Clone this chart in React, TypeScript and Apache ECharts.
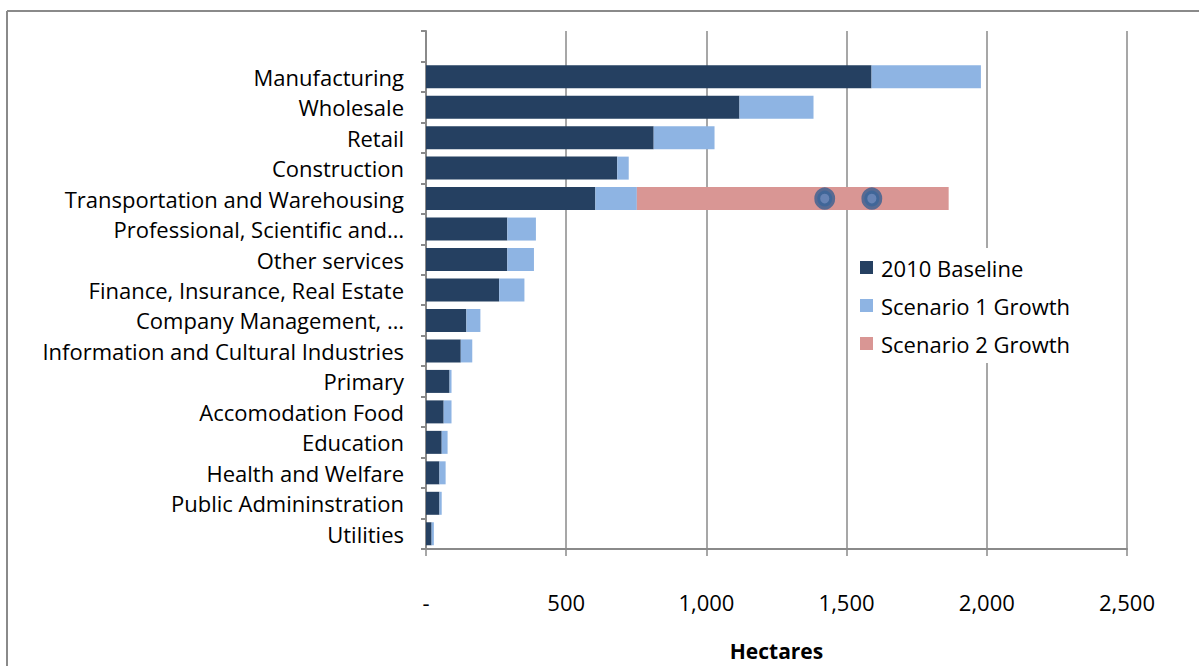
import React, { useEffect, useRef } from "react";
import * as echarts from "echarts";

const categories = [
  "",
  "Manufacturing",
  "Wholesale",
  "Retail",
  "Construction",
  "Transportation and Warehousing",
  "Professional, Scientific and…",
  "Other services",
  "Finance, Insurance, Real Estate",
  "Company Management, …",
  "Information and Cultural Industries",
  "Primary",
  "Accomodation Food",
  "Education",
  "Health and Welfare",
  "Public Admininstration",
  "Utilities",
];
const baseline = [null, 1589, 1118, 812, 682, 604, 290, 290, 261, 144, 124, 84, 63, 56, 48, 48, 20];
const scenario1 = [null, 390, 264, 217, 41, 148, 102, 95, 90, 50, 41, 7, 28, 21, 22, 8, 8];
const scenario2 = [null, null, null, null, null, 1112, null, null, null, null, null, null, null, null, null, null, null];
const markers = [
  [1422, 5],
  [1590, 5],
];
const xTickLabels: Record<number, string> = { 0: "-", 500: "500", 1000: "1,000", 1500: "1,500", 2000: "2,000", 2500: "2,500" };

const FONT = "Open Sans";
const GRAY = "#8a8a8a";
const FS = 22;

export default function App() {
  const ref = useRef<HTMLDivElement>(null);
  useEffect(() => {
    document.body.style.margin = "0";
    const chart = echarts.init(ref.current!, null, { renderer: "svg" });
    chart.setOption({
      animation: false,
      backgroundColor: "#fff",
      textStyle: { fontFamily: FONT },
      graphic: [
        { type: "line", shape: { x1: 7, y1: 11, x2: 1199, y2: 11 }, style: { stroke: GRAY, lineWidth: 2 } },
        { type: "line", shape: { x1: 7, y1: 11, x2: 7, y2: 666 }, style: { stroke: GRAY, lineWidth: 2 } },
      ],
      grid: { left: 426, right: 72, top: 31, bottom: 104 },
      legend: {
        data: ["2010 Baseline", "Scenario 1 Growth", "Scenario 2 Growth"],
        orient: "vertical",
        left: 850,
        top: 248,
        padding: [8, 10, 8, 10],
        backgroundColor: "#fff",
        itemWidth: 13,
        itemHeight: 13,
        itemGap: 15,
        icon: "rect",
        textStyle: { fontSize: FS, color: "#000", fontFamily: FONT, lineHeight: 23, padding: [0, 0, 0, 3] },
      },
      xAxis: {
        type: "value",
        min: 0,
        max: 2500,
        interval: 500,
        name: "Hectares",
        nameLocation: "middle",
        nameGap: 91,
        nameTextStyle: { fontSize: 21, fontWeight: "bold", color: "#000", fontFamily: FONT },
        axisLine: { show: true, lineStyle: { color: GRAY, width: 2 } },
        axisTick: { show: true, length: 7, lineStyle: { color: GRAY, width: 1.5 } },
        axisLabel: {
          fontSize: FS,
          color: "#000",
          margin: 42,
          fontFamily: FONT,
          formatter: (v: number) => xTickLabels[v] ?? String(v),
        },
        splitLine: { show: true, lineStyle: { color: GRAY, width: 1.5 } },
      },
      yAxis: {
        type: "category",
        data: categories,
        inverse: true,
        axisLine: { show: true, lineStyle: { color: GRAY, width: 2 } },
        axisTick: { show: true, length: 5, lineStyle: { color: GRAY, width: 2 } },
        axisLabel: { fontSize: FS, color: "#000", margin: 22, fontFamily: FONT },
        splitLine: { show: false },
      },
      series: [
        {
          name: "2010 Baseline",
          type: "bar",
          stack: "total",
          data: baseline,
          barWidth: 23,
          itemStyle: { color: "#254061" },
        },
        {
          name: "Scenario 1 Growth",
          type: "bar",
          stack: "total",
          data: scenario1,
          barWidth: 23,
          itemStyle: { color: "#8eb4e3" },
        },
        {
          name: "Scenario 2 Growth",
          type: "bar",
          stack: "total",
          data: scenario2,
          barWidth: 23,
          itemStyle: { color: "#d99694" },
        },
        {
          name: "markers",
          type: "scatter",
          data: markers,
          symbol: "circle",
          symbolSize: [15, 16],
          itemStyle: { color: "#4a7ebb", borderColor: "#375f91", borderWidth: 6 },
          z: 5,
        },
      ],
    });
    return () => chart.dispose();
  }, []);
  return <div ref={ref} style={{ width: 1199, height: 666 }} />;
}
